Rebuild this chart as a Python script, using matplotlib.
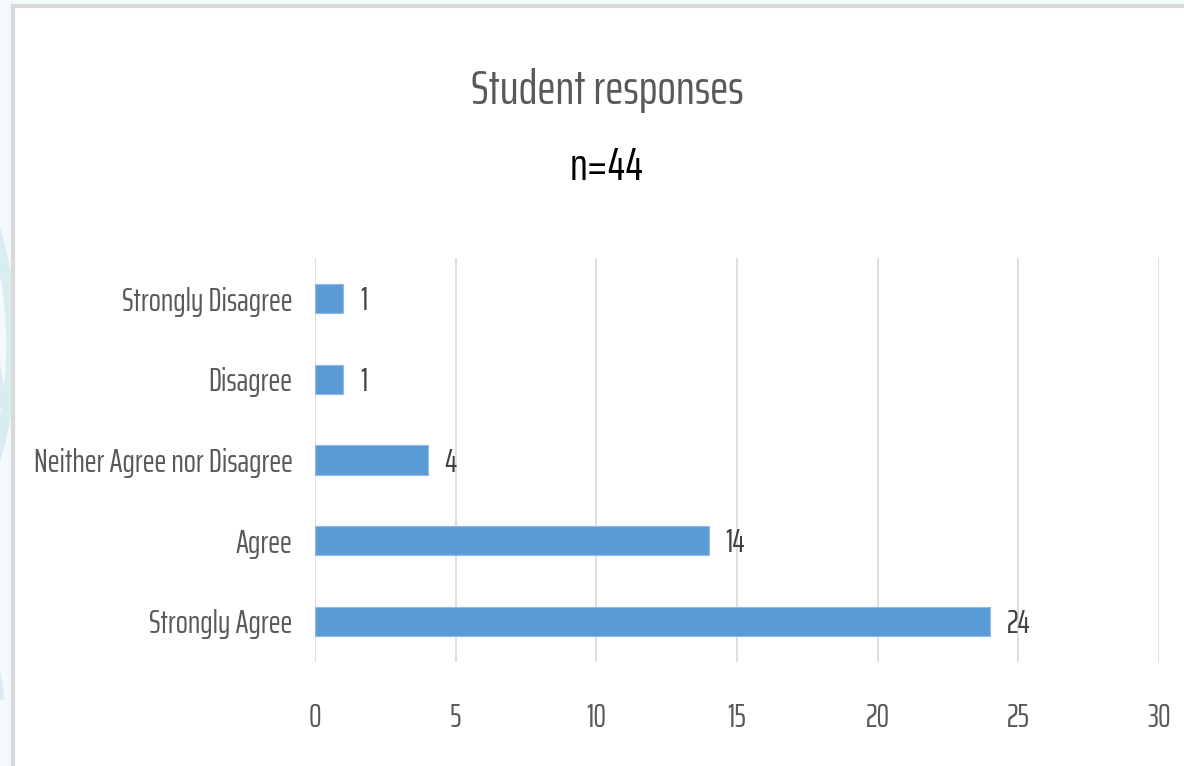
import matplotlib.pyplot as plt
from matplotlib.patches import Arc

# data (bottom to top)
categories = ["Strongly Agree", "Agree", "Neither Agree nor Disagree", "Disagree", "Strongly Disagree"]
counts = [24, 14, 4, 1, 1]
xticks = [0, 5, 10, 15, 20, 25, 30]

plt.rcParams['font.family'] = ['Saira ExtraCondensed', 'DejaVu Sans']
txt = '#595959'
bar_col = '#5B9BD5'

fig = plt.figure(figsize=(11.84, 7.66), dpi=100, facecolor='#f4fafb')

# light cyan curves behind the chart frame (slide background)
for (cx, cy, w, h, t1, t2) in [(-0.6, 0.55, 1.22, 1.4, -40, 40),
                               (-0.1, 0.05, 0.2, 0.5, 20, 80),
                               (-0.1, 0.45, 0.2, 0.5, 10, 60)]:
    fig.patches.append(Arc((cx, cy), w, h, theta1=t1, theta2=t2, transform=fig.transFigure,
                           color='#d9edf0', lw=8, zorder=0))

# chart frame
frame = plt.Rectangle((13 / 1184, -0.05), 1.1, 1 - 6 / 766 + 0.05, transform=fig.transFigure,
                      facecolor='white', edgecolor='#d9d9d9', lw=3, zorder=1)
fig.patches.append(frame)

ax = fig.add_axes([0.266, 0.136, 0.713, 0.527])
ax.set_zorder(2)
ax.patch.set_alpha(0)
y = range(len(categories))
ax.barh(y, counts, height=0.36, color=bar_col, edgecolor='#8fbbe6', lw=0.8, zorder=3)
for yi, v in zip(y, counts):
    ax.annotate(str(v), (v, yi), xytext=(12, -2), textcoords='offset points',
                ha='left', va='center', fontsize=23, color='#404040')

ax.set_xlim(0, 30)
ax.set_ylim(-0.5, len(categories) - 0.5)
ax.set_xticks(xticks)
ax.set_yticks(list(y))
ax.set_yticklabels(categories)
ax.grid(axis='x', color='#d9d9d9', lw=1.2, zorder=0)
ax.set_axisbelow(True)
for s in ax.spines.values():
    s.set_visible(False)
ax.tick_params(axis='both', length=0, labelsize=23, labelcolor=txt)
ax.tick_params(axis='x', pad=30)
ax.tick_params(axis='y', pad=16)

fig.text(0.513, 0.882, "Student responses", ha='center', va='center', fontsize=35, color=txt)
fig.text(0.512, 0.781, "n=44", ha='center', va='center', fontsize=33, color='black')

fig.savefig('out.png', dpi=100, facecolor=fig.get_facecolor())
